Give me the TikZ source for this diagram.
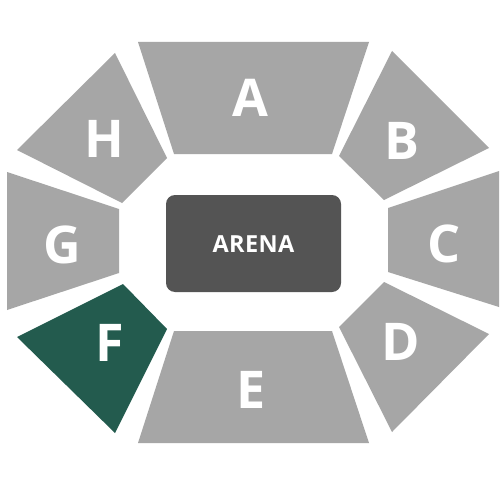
\documentclass[tikz,border=0pt]{standalone}
\usepackage{fontspec}
\setmainfont{Open Sans}
\newfontfamily\arenafont[LetterSpace=1.5]{Open Sans}
\definecolor{seat}{HTML}{A6A6A6}
\definecolor{arenac}{HTML}{545454}
\definecolor{sel}{HTML}{235B4E}
\begin{document}
\begin{tikzpicture}[x={(1pt,0)},y={(0,-1pt)},
  sec/.style={fill=seat,draw=none},
  lbl/.style={text=white,font=\fontsize{52}{52}\selectfont\bfseries,inner sep=0pt}]
\useasboundingbox (0,0) rectangle (500,500);
\fill[white] (0,0) rectangle (500,500);
% sections
\fill[sec] (138,42) -- (369,42) -- (332,154) -- (174,154) -- cycle;
\fill[sec] (392,51) -- (489,148) -- (384,200) -- (339,156) -- cycle;
\fill[sec] (388,208) -- (499,171) -- (499,307) -- (388,272) -- cycle;
\fill[sec] (384,282) -- (489,334) -- (392,432) -- (339,327) -- cycle;
\fill[sec] (174,331) -- (332,331) -- (369,443) -- (138,443) -- cycle;
\fill[sel] (123,284) -- (167,329) -- (115,433) -- (17,337) -- cycle;
\fill[sec] (7,172) -- (119,209) -- (119,273) -- (7,310) -- cycle;
\fill[sec] (115,53) -- (167,158) -- (122,203) -- (17,150) -- cycle;
% arena
\fill[arenac,rounded corners=9pt] (166,195) rectangle (341,292);
\node[text=white,font=\arenafont\fontsize{23.5}{23.5}\selectfont\bfseries,inner sep=0pt] (arena) at (253.5,244) {ARENA};
% labels
\node[lbl] (la) at (250,98) {A};
\node[lbl] (lb) at (402,141) {B};
\node[lbl] (lc) at (444.5,243.5) {C};
\node[lbl] (ld) at (401,342) {D};
\node[lbl] (le) at (251,389.5) {E};
\node[lbl] (lf) at (110,342.5) {F};
\node[lbl] (lg) at (62,244.5) {G};
\node[lbl] (lh) at (104,139) {H};
\end{tikzpicture}
\end{document}
